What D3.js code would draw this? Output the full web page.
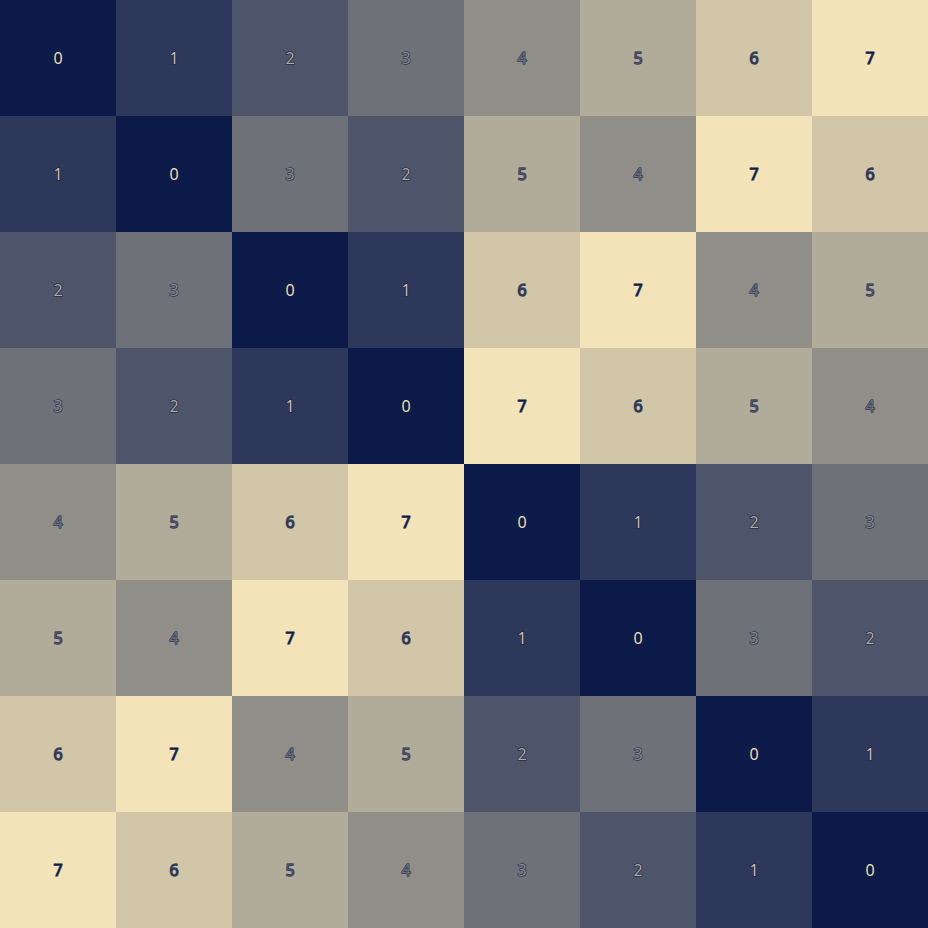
<!DOCTYPE html>
<html>
<head>
<meta charset="utf-8">
<script src="https://cdn.jsdelivr.net/npm/d3@7"></script>
<style>
html,body{margin:0;padding:0;background:#fff;}
svg{display:block;}
</style>
</head>
<body>
<svg id="chart" width="928" height="928"></svg>
<script>
const rows = [0,1,2,3,4,5,6,7];
const cols = [0,1,2,3,4,5,6,7];
const values = [
  [0,1,2,3,4,5,6,7],
  [1,0,3,2,5,4,7,6],
  [2,3,0,1,6,7,4,5],
  [3,2,1,0,7,6,5,4],
  [4,5,6,7,0,1,2,3],
  [5,4,7,6,1,0,3,2],
  [6,7,4,5,2,3,0,1],
  [7,6,5,4,3,2,1,0]
];
const lowColor = "#0d1b4a";
const highColor = "#f2e4b8";

const W = 928, H = 928;
const svg = d3.select("#chart");
const x = d3.scaleBand().domain(cols).range([0, W]);
const y = d3.scaleBand().domain(rows).range([0, H]);
const color = d3.scaleLinear().domain([0, 7]).range([lowColor, highColor]).interpolate(d3.interpolateRgb);

const cells = [];
rows.forEach((r, i) => cols.forEach((c, j) => cells.push({r, c, v: values[i][j]})));

const g = svg.append("g");
g.selectAll("rect").data(cells).join("rect")
  .attr("x", d => x(d.c)).attr("y", d => y(d.r))
  .attr("width", x.bandwidth()).attr("height", y.bandwidth())
  .attr("fill", d => color(d.v));

g.selectAll("text").data(cells).join("text")
  .attr("x", d => x(d.c) + x.bandwidth()/2)
  .attr("y", d => y(d.r) + y.bandwidth()/2)
  .attr("text-anchor", "middle")
  .attr("dominant-baseline", "central")
  .attr("font-family", "'Open Sans', 'Noto Sans', sans-serif")
  .attr("font-size", 16)
  .attr("fill", d => color(7 - d.v))
  .attr("stroke", lowColor)
  .attr("stroke-opacity", 0.75)
  .attr("stroke-width", 1.5)
  .attr("stroke-linejoin", "round")
  .attr("paint-order", "stroke")
  .text(d => d.v);
</script>
</body>
</html>
